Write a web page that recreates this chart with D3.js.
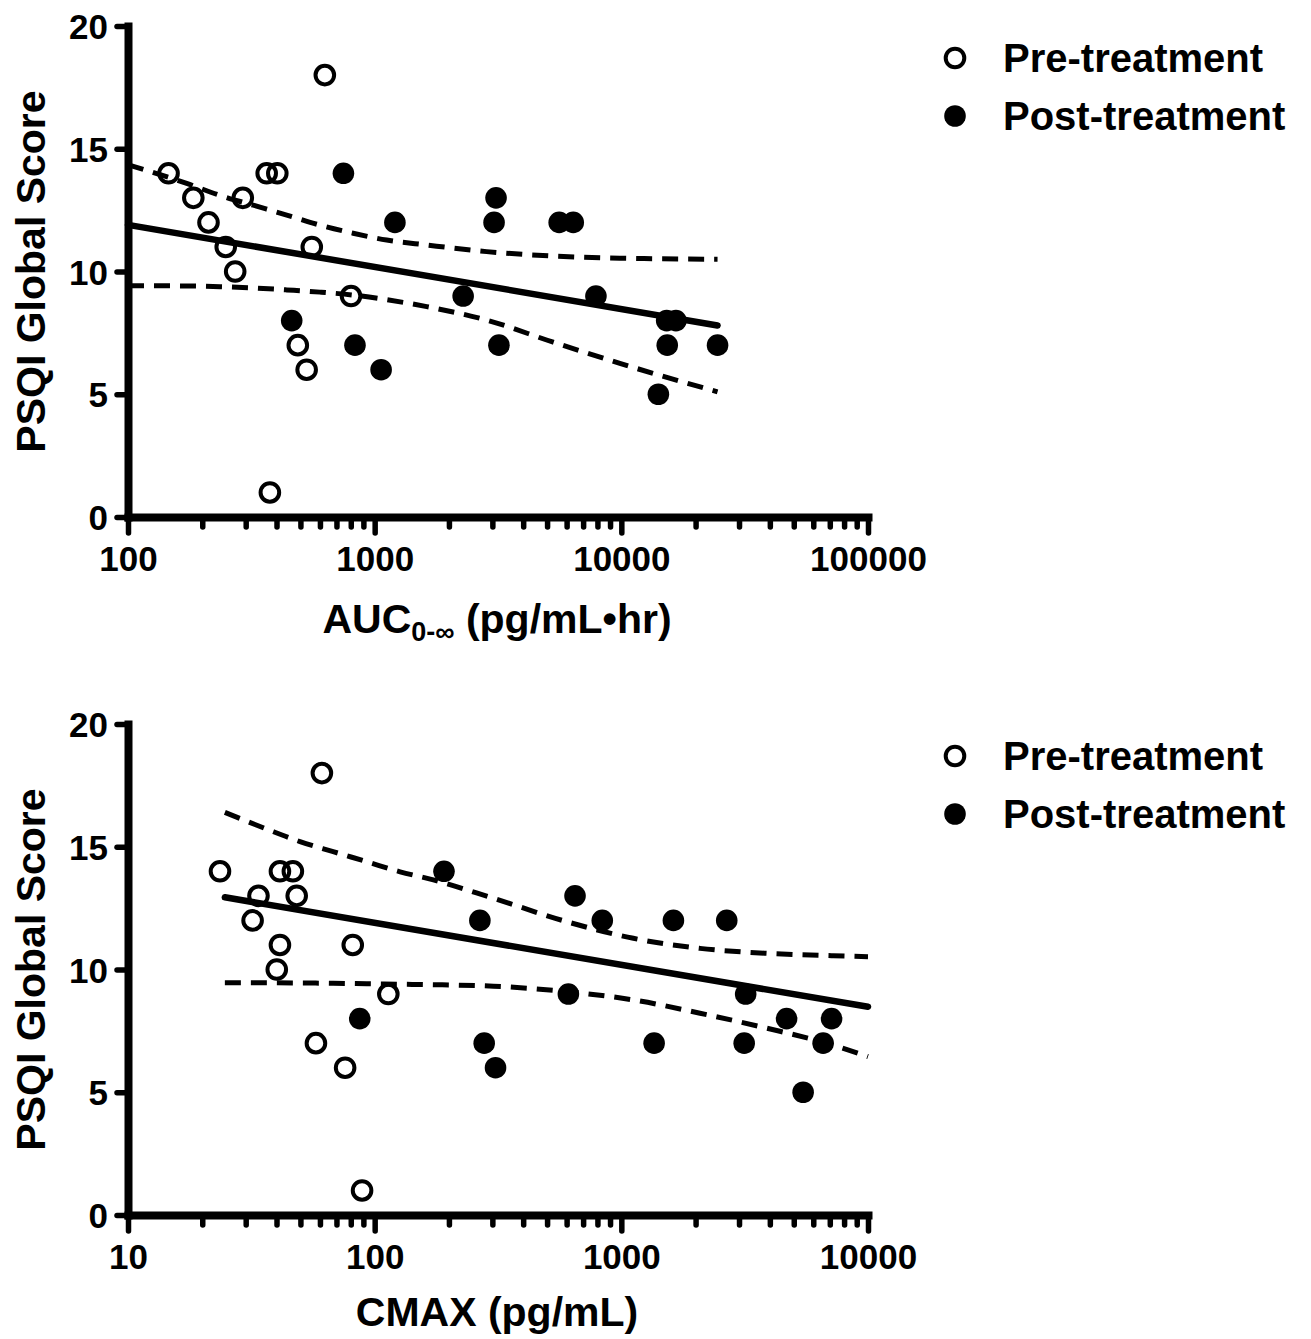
<!DOCTYPE html>
<html>
<head>
<meta charset="utf-8">
<script src="https://cdn.jsdelivr.net/npm/d3@7"></script>
<style>
  body { margin: 0; background: #fff; }
  text { font-family: "Liberation Sans", Arial, sans-serif; font-weight: bold; fill: #000; }
</style>
</head>
<body>
<svg id="chart" width="1311" height="1339"></svg>
<script>
// AUC panel data
const aucPreX = [146, 184, 212, 249, 272, 292, 365, 403, 556, 628, 802, 488, 530, 376];
const aucPreY = [14, 13, 12, 11, 10, 13, 14, 14, 11, 18, 9, 7, 6, 1];
const aucPostX = [747, 461, 832, 1062, 1208, 2284, 3105, 3048, 3190, 5598, 6383, 7889, 15270, 16650, 15350, 24550, 14130];
const aucPostY = [14, 8, 7, 6, 12, 9, 13, 12, 7, 12, 12, 9, 8, 8, 7, 7, 5];
const aucFitX = [100, 24550];
const aucFitY = [11.9, 7.8];
const aucBandX = [100, 173, 236, 322, 440, 600, 818, 1119, 1626, 2844, 5297, 9863, 13460, 24550];
const aucBandUpper = [14.35, 13.59, 13.1, 12.7, 12.3, 11.89, 11.56, 11.28, 11.08, 10.81, 10.63, 10.54, 10.52, 10.5];
const aucBandLower = [9.42, 9.41, 9.38, 9.33, 9.25, 9.16, 9.04, 8.85, 8.57, 8.02, 7.12, 6.26, 5.85, 5.1];
const aucMajor = [100, 1000, 10000, 100000];

// CMAX panel data
const cmaxPreX = [23.6, 33.8, 32.0, 41.3, 46.6, 48.3, 41.3, 40.1, 81.5, 113.6, 57.8, 75.9, 61.1, 88.9];
const cmaxPreY = [14, 13, 12, 14, 14, 13, 11, 10, 11, 9, 7, 6, 18, 1];
const cmaxPostX = [191, 267, 278, 309, 87, 610, 649, 837, 1358, 1626, 2675, 3192, 3148, 4677, 7117, 6577, 5458];
const cmaxPostY = [14, 12, 7, 6, 8, 9, 13, 12, 7, 12, 12, 9, 7, 8, 8, 7, 5];
const cmaxFitX = [24.7, 10000];
const cmaxFitY = [12.94, 8.48];
const cmaxBandX = [24.7, 36.5, 49.8, 67.9, 92.9, 126.8, 173, 303, 600, 1119, 2084, 3882, 7228, 10000];
const cmaxBandUpper = [16.4, 15.72, 15.21, 14.8, 14.39, 13.98, 13.65, 12.9, 11.95, 11.27, 10.86, 10.66, 10.56, 10.52];
const cmaxBandLower = [9.46, 9.46, 9.45, 9.44, 9.42, 9.4, 9.38, 9.32, 9.1, 8.76, 8.22, 7.61, 6.92, 6.45];
const cmaxMajor = [10, 100, 1000, 10000];

const yTicks = [0, 5, 10, 15, 20];
const seriesNames = ["Pre-treatment", "Post-treatment"];
const yTitle = "PSQI Global Score";

const svg = d3.select("svg#chart");

const zip = (xs, ys) => xs.map((v, i) => [v, ys[i]]);

var drawPanel = function(p) {
  let g = svg.append("g");

  let x = d3.scaleLog().domain([p.major[0], p.major[p.major.length - 1]]).range([128, 868]);
  let y = d3.scaleLinear().domain([0, 20]).range([p.bottom, p.bottom - 491]);

  // minor ticks 2..9 of every decade
  let minor = [];
  p.major.slice(0, -1).forEach(function(m) {
    for (let k = 2; k <= 9; k++) minor.push(m * k);
  });

  let xAxis = d3.axisBottom(x)
    .tickValues(minor.concat(p.major))
    .tickFormat(d => p.major.includes(d) ? d : "")
    .tickSizeOuter(0)
    .tickSizeInner(10);

  let xg = g.append("g")
    .attr("transform", "translate(0," + p.bottom + ")")
    .call(xAxis)
    .attr("font-size", 35)
    .attr("font-family", null);

  xg.select(".domain").attr("stroke-width", 8).attr("stroke-linecap", "square");
  xg.selectAll(".tick line")
    .attr("stroke-width", 5.5)
    .attr("stroke-linecap", "round")
    .attr("y2", d => p.major.includes(d) ? 16 : 10);
  xg.selectAll(".tick text").attr("y", 54).attr("dy", 0);

  let yAxis = d3.axisLeft(y)
    .tickValues(yTicks)
    .tickSizeOuter(0)
    .tickSizeInner(11);

  let yg = g.append("g")
    .attr("transform", "translate(128,0)")
    .call(yAxis)
    .attr("font-size", 35)
    .attr("font-family", null);

  yg.select(".domain").attr("stroke-width", 8).attr("stroke-linecap", "square");
  yg.selectAll(".tick line").attr("stroke-width", 5.5).attr("stroke-linecap", "round");
  yg.selectAll(".tick text").attr("x", -20).attr("dy", "0.36em");

  // points
  g.append("g").selectAll("circle")
    .data(zip(p.preX, p.preY))
    .enter()
    .append("circle")
    .attr("cx", d => x(d[0]))
    .attr("cy", d => y(d[1]))
    .attr("r", 9.3)
    .attr("fill", "none")
    .attr("stroke", "#000")
    .attr("stroke-width", 4);

  g.append("g").selectAll("circle")
    .data(zip(p.postX, p.postY))
    .enter()
    .append("circle")
    .attr("cx", d => x(d[0]))
    .attr("cy", d => y(d[1]))
    .attr("r", 10.8)
    .attr("fill", "#000");

  // regression and confidence band
  let line = d3.line()
    .x(d => x(d[0]))
    .y(d => y(d[1]))
    .curve(d3.curveMonotoneX);

  [p.bandUpper, p.bandLower].forEach(function(band) {
    g.append("path")
      .attr("d", line(zip(p.bandX, band)))
      .attr("fill", "none")
      .attr("stroke", "#000")
      .attr("stroke-width", 5)
      .attr("stroke-dasharray", "16,10");
  });

  g.append("path")
    .attr("d", line(zip(p.fitX, p.fitY)))
    .attr("fill", "none")
    .attr("stroke", "#000")
    .attr("stroke-width", 6.5)
    .attr("stroke-linecap", "round");

  // axis titles
  g.append("text")
    .attr("transform", "translate(45," + ((y(0) + y(20)) / 2) + ") rotate(-90)")
    .attr("text-anchor", "middle")
    .attr("font-size", 41)
    .text(yTitle);

  let xt = g.append("text")
    .attr("x", 497)
    .attr("y", p.bottom + p.titleOffset)
    .attr("text-anchor", "middle")
    .attr("font-size", 41);
  xt.append("tspan").text(p.xTitle[0]);
  if (p.xTitle.length > 1) {
    xt.append("tspan").attr("font-size", 27).attr("dy", 8).text(p.xTitle[1]);
    xt.append("tspan").attr("dy", -8).text(p.xTitle[2]);
  }

  // legend
  let legend = g.append("g").attr("transform", "translate(955," + (y(20) + 32) + ")");
  legend.append("circle")
    .attr("r", 9.3).attr("fill", "none").attr("stroke", "#000").attr("stroke-width", 4);
  legend.append("circle")
    .attr("cy", 58).attr("r", 10.8).attr("fill", "#000");
  legend.selectAll("text")
    .data(seriesNames)
    .enter()
    .append("text")
    .attr("x", 48)
    .attr("y", (d, i) => i * 58 + 14)
    .attr("font-size", 40)
    .text(d => d);
};

drawPanel({
  bottom: 517,
  major: aucMajor,
  preX: aucPreX, preY: aucPreY,
  postX: aucPostX, postY: aucPostY,
  fitX: aucFitX, fitY: aucFitY,
  bandX: aucBandX, bandUpper: aucBandUpper, bandLower: aucBandLower,
  xTitle: ["AUC", "0-\u221E", " (pg/mL\u2022hr)"],
  titleOffset: 116
});

drawPanel({
  bottom: 1215,
  major: cmaxMajor,
  preX: cmaxPreX, preY: cmaxPreY,
  postX: cmaxPostX, postY: cmaxPostY,
  fitX: cmaxFitX, fitY: cmaxFitY,
  bandX: cmaxBandX, bandUpper: cmaxBandUpper, bandLower: cmaxBandLower,
  xTitle: ["CMAX (pg/mL)"],
  titleOffset: 111
});
</script>
</body>
</html>
